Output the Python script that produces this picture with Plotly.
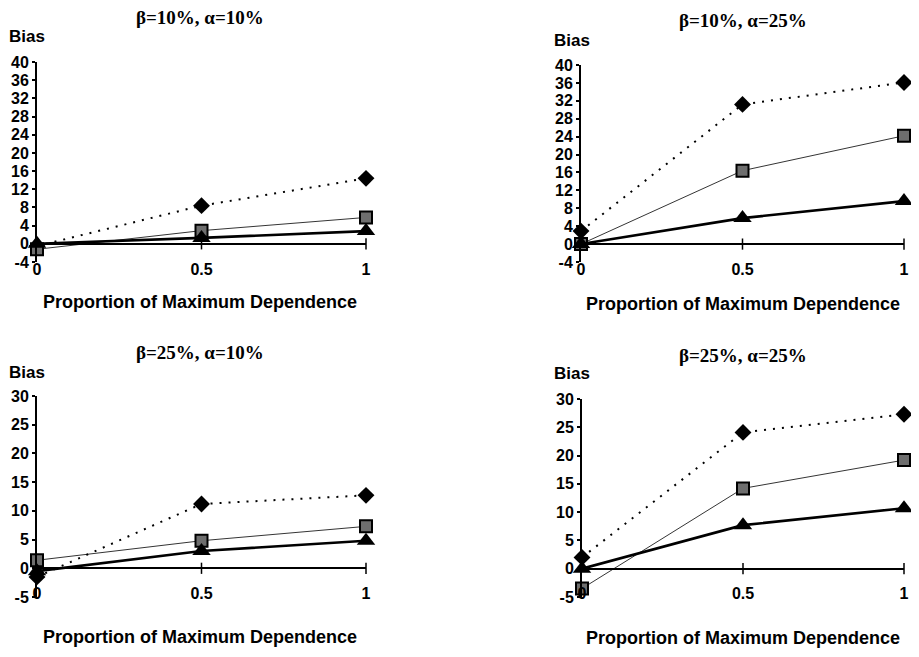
import plotly.graph_objects as go

W, H = 919, 657
OX, OY = 8, 8          # page body margin offset
FW, FH = W - 2 * OX, H - 2 * OY

# ---------------- data ----------------
x_vals = [0, 0.5, 1]
x_ticktext = ["0", "0.5", "1"]

titles = ["β=10%, α=10%", "β=10%, α=25%", "β=25%, α=10%", "β=25%, α=25%"]

# series per panel: diamond (dotted), square (thin), triangle (thick)
diamond_p1 = [-0.5, 8.4, 14.4]
square_p1 = [-1.2, 2.9, 5.8]
triangle_p1 = [0.0, 1.3, 2.8]

diamond_p2 = [2.9, 31.2, 36.1]
square_p2 = [0.0, 16.4, 24.2]
triangle_p2 = [0.0, 5.8, 9.6]

diamond_p3 = [-1.5, 11.2, 12.7]
square_p3 = [1.4, 4.8, 7.3]
triangle_p3 = [-0.5, 3.0, 4.8]

diamond_p4 = [2.0, 24.1, 27.3]
square_p4 = [-3.5, 14.2, 19.2]
triangle_p4 = [0.0, 7.7, 10.7]

y_ticks_top = [-4, 0, 4, 8, 12, 16, 20, 24, 28, 32, 36, 40]
y_ticks_bottom = [-5, 0, 5, 10, 15, 20, 25, 30]

panels = [
    dict(d=diamond_p1, s=square_p1, t=triangle_p1, ticks=y_ticks_top, standoff=-4,
         px=(37, 366), py=(62, 262), title=(200, 17), bias=(27, 37), xt=(200, 302)),
    dict(d=diamond_p2, s=square_p2, t=triangle_p2, ticks=y_ticks_top, standoff=-4,
         px=(581, 904), py=(65, 262), title=(743, 20), bias=(572, 40), xt=(743, 304)),
    dict(d=diamond_p3, s=square_p3, t=triangle_p3, ticks=y_ticks_bottom, standoff=-15,
         px=(37, 366), py=(396, 597), title=(200, 352), bias=(27, 372), xt=(200, 637)),
    dict(d=diamond_p4, s=square_p4, t=triangle_p4, ticks=y_ticks_bottom, standoff=-15,
         px=(582, 904), py=(399, 597), title=(743, 355), bias=(572, 373), xt=(743, 638)),
]

SANS = "Liberation Sans, Arial, sans-serif"
SERIF = "Liberation Serif, Times New Roman, serif"


def fx(px):
    return (px - OX) / FW


def fy(py):
    return 1 - (py - OY) / FH


fig = go.Figure()
layout = dict(
    width=FW, height=FH,
    margin=dict(l=0, r=0, t=0, b=0, pad=0),
    paper_bgcolor="white", plot_bgcolor="white",
    showlegend=False,
    annotations=[],
)

for i, p in enumerate(panels):
    n = "" if i == 0 else str(i + 1)
    xa, ya = "x" + n, "y" + n
    # tick marks along the x axis line (drawn at y=0)
    fig.add_trace(go.Scatter(
        x=x_vals[1:], y=[0] * (len(x_vals) - 1), xaxis=xa, yaxis=ya, mode="markers",
        marker=dict(symbol="line-ns", size=8, line=dict(color="black", width=1.5)),
        hoverinfo="skip", cliponaxis=False))
    # diamond series - dotted
    fig.add_trace(go.Scatter(
        x=x_vals, y=p["d"], xaxis=xa, yaxis=ya, mode="lines+markers",
        line=dict(color="black", width=2, dash="2px,7px"),
        marker=dict(symbol="diamond", size=13, color="black"),
        cliponaxis=False))
    # square series - thin solid
    fig.add_trace(go.Scatter(
        x=x_vals, y=p["s"], xaxis=xa, yaxis=ya, mode="lines+markers",
        line=dict(color="black", width=0.8),
        marker=dict(symbol="square", size=12, color="#6e6e6e",
                    line=dict(color="black", width=2)),
        cliponaxis=False))
    # triangle series - thick solid
    fig.add_trace(go.Scatter(
        x=x_vals, y=p["t"], xaxis=xa, yaxis=ya, mode="lines+markers",
        line=dict(color="black", width=2.6),
        marker=dict(symbol="triangle-up", size=16, color="black"),
        cliponaxis=False))

    ticks = p["ticks"]
    layout["xaxis" + n] = dict(
        domain=[fx(p["px"][0]), fx(p["px"][1])],
        anchor=ya, range=[0, 1], automargin=False,
        tickvals=x_vals, ticktext=x_ticktext, ticklabelstandoff=p["standoff"],
        showgrid=False, zeroline=False, showline=False, ticks="",
        tickfont=dict(family=SANS, size=16, color="black", weight="bold"),
    )
    layout["yaxis" + n] = dict(
        domain=[fy(p["py"][1]), fy(p["py"][0])],
        anchor=xa, range=[ticks[0], ticks[-1]], automargin=False,
        tickvals=ticks, ticktext=[str(v) for v in ticks],
        showgrid=False, showline=True, linecolor="black", linewidth=2,
        zeroline=True, zerolinecolor="black", zerolinewidth=2,
        ticks="outside", ticklen=3, tickwidth=1.5, tickcolor="black",
        tickfont=dict(family=SANS, size=16, color="black", weight="bold"),
    )
    layout["annotations"] += [
        dict(text=titles[i], x=fx(p["title"][0]), y=fy(p["title"][1]),
             xref="paper", yref="paper", showarrow=False,
             xanchor="center", yanchor="middle",
             font=dict(family=SERIF, size=19, color="black", weight="bold")),
        dict(text="Bias", x=fx(p["bias"][0]), y=fy(p["bias"][1]),
             xref="paper", yref="paper", showarrow=False,
             xanchor="center", yanchor="middle",
             font=dict(family=SANS, size=17, color="black", weight="bold")),
        dict(text="Proportion of Maximum Dependence", x=fx(p["xt"][0]), y=fy(p["xt"][1]),
             xref="paper", yref="paper", showarrow=False,
             xanchor="center", yanchor="middle",
             font=dict(family=SANS, size=18, color="black", weight="bold")),
    ]

fig.update_layout(**layout)
fig.write_html("out.html")
